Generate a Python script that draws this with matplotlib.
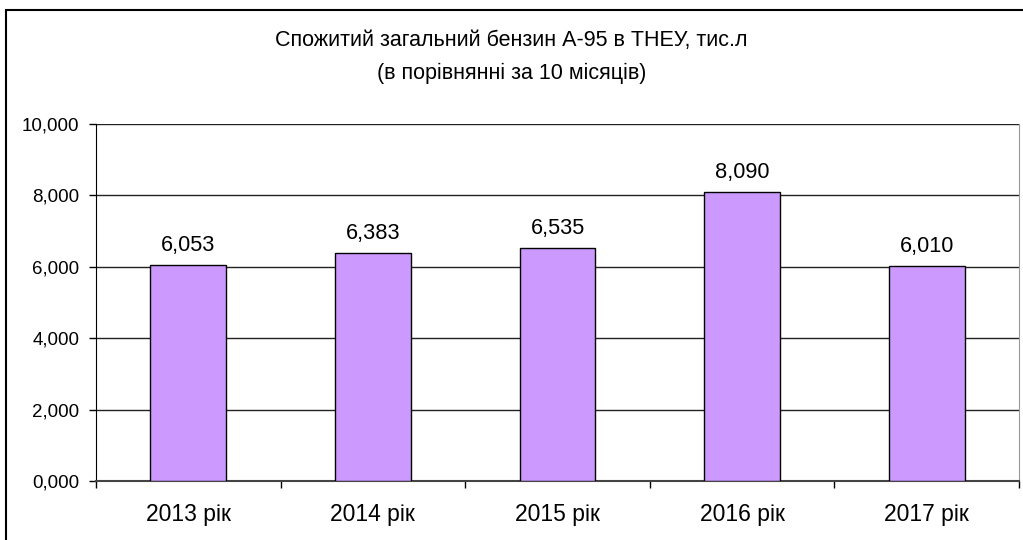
import matplotlib
matplotlib.use("Agg")
import matplotlib.pyplot as plt
from matplotlib.patches import Rectangle
from matplotlib.ticker import FixedLocator, FuncFormatter

plt.rcParams['font.family'] = ['Liberation Sans', 'DejaVu Sans']

categories = ["2013 рік", "2014 рік", "2015 рік", "2016 рік", "2017 рік"]
values = [6.053, 6.383, 6.535, 8.090, 6.010]
title = "Спожитий загальний бензин А-95 в ТНЕУ, тис.л\n(в порівнянні за 10 місяців)"

W, H = 1023, 540
fig = plt.figure(figsize=(W / 100, H / 100), dpi=100)
ax = fig.add_axes([96 / W, 1 - 481 / H, (1019 - 96) / W, (481 - 124) / H])

x = list(range(len(categories)))
ax.bar(x, values, width=0.41, color="#CC99FF", edgecolor="black", linewidth=1, zorder=3)

def fmt(v):
    return f"{v:.3f}".replace(".", ",")

for xi, v in zip(x, values):
    ax.annotate(fmt(v), (xi, v), xytext=(0, 6.5), textcoords="offset points",
                ha="center", va="bottom", fontsize=15.7)

ax.set_xlim(-0.5, len(categories) - 0.5)
ax.set_ylim(0, 10)
ax.set_yticks([0, 2, 4, 6, 8, 10])
ax.yaxis.set_major_formatter(FuncFormatter(lambda v, p: fmt(v)))
ax.set_xticks(x)
ax.set_xticklabels(categories)
ax.xaxis.set_minor_locator(FixedLocator([i - 0.5 for i in range(len(categories) + 1)]))
ax.tick_params(axis="x", which="major", length=0, pad=16, labelsize=16.5)
ax.tick_params(axis="x", which="minor", length=5, width=1, color="black", direction="out")
ax.tick_params(axis="y", which="major", length=5, width=1, pad=7, labelsize=13.5, direction="out")
ax.yaxis.grid(True, color="#222222", linewidth=1, zorder=0)
ax.set_axisbelow(True)

ax.spines["top"].set_visible(False)
ax.spines["right"].set_color("#999999")
ax.spines["left"].set_color("black")
ax.spines["bottom"].set_color("#444444")
ax.spines["bottom"].set_linewidth(1.5)

fig.text(0.5, 1 - 57 / H, title, ha="center", va="center", fontsize=15.5, linespacing=1.75)

fig.patches.append(Rectangle((6 / W, -0.1), 2.0, 1 - 10 / H + 0.1, transform=fig.transFigure,
                             fill=False, edgecolor="black", linewidth=1.5))

fig.savefig("out.png", dpi=100)
